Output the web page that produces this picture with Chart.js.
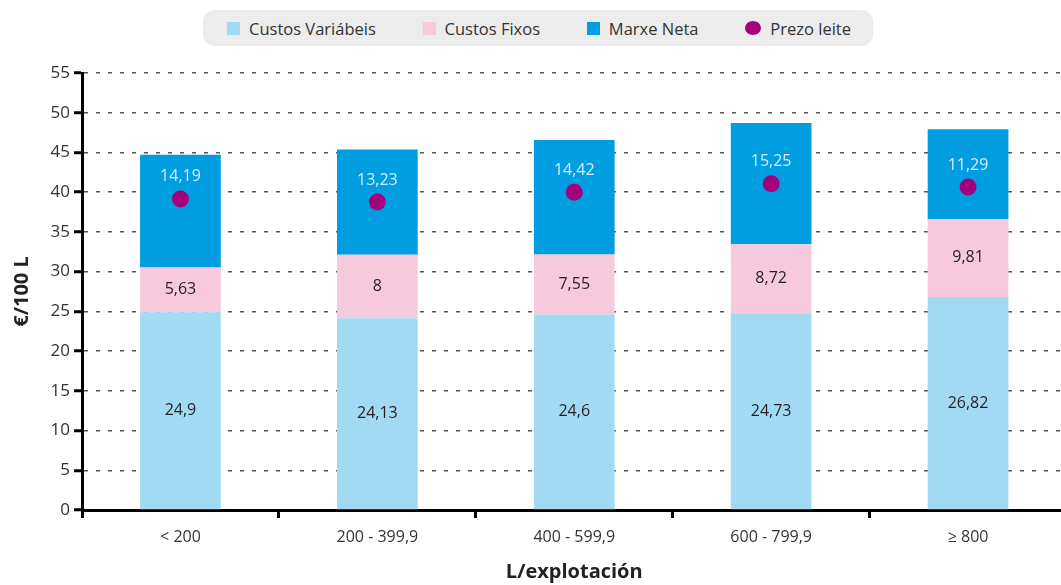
<!DOCTYPE html>
<html>
<head>
<meta charset="utf-8">
<script src="https://cdn.jsdelivr.net/npm/chart.js@4/dist/chart.umd.min.js"></script>
<style>
  html, body { margin: 0; padding: 0; background: #fff; overflow: hidden; }
  #wrap { position: relative; width: 1075px; height: 585px; }
  #legend {
    position: absolute; left: 203px; top: 10px; width: 670px; height: 36px;
    box-sizing: border-box; padding: 0 22px 0 24px;
    background: #ececec; border-radius: 12px;
    display: flex; align-items: center; justify-content: space-between;
    font: 16.5px "Open Sans", sans-serif; color: #333;
  }
  .item { display: flex; align-items: center; }
  .box { width: 13px; height: 13px; margin-right: 9px; }
  .dot { width: 16px; height: 14px; border-radius: 50%; margin-right: 9px; }
</style>
</head>
<body>
<div id="wrap">
  <canvas id="chart" width="1075" height="585"></canvas>
  <div id="legend"></div>
</div>
<script>
// ── Data ──────────────────────────────────────────────────
const categories = ['< 200', '200 - 399,9', '400 - 599,9', '600 - 799,9', '≥ 800'];
const custosVariabeis = [24.9, 24.13, 24.6, 24.73, 26.82];
const custosFixos = [5.63, 8, 7.55, 8.72, 9.81];
const marxeNeta = [14.19, 13.23, 14.42, 15.25, 11.29];
const prezoLeite = [39.15, 38.75, 40.0, 41.05, 40.65];
const yMax = 55;
const yStep = 5;

const FONT = '"Open Sans", sans-serif';
const fmt = v => String(v).replace('.', ',');

// ── Value labels inside the bars ──────────────────────────
const valueLabels = {
  id: 'valueLabels',
  afterDatasetsDraw(chart) {
    const ctx = chart.ctx;
    const priceMeta = chart.getDatasetMeta(3);
    ctx.save();
    ctx.font = '16px ' + FONT;
    ctx.textAlign = 'center';
    ctx.textBaseline = 'middle';
    chart.data.datasets.forEach((ds, i) => {
      if (ds.type === 'line') return;
      chart.getDatasetMeta(i).data.forEach((bar, j) => {
        // net margin label sits just above the milk price dot
        const y = ds.labelTop ? priceMeta.data[j].y - 22 : (bar.y + bar.base) / 2;
        ctx.fillStyle = ds.labelColor;
        ctx.fillText(fmt(ds.data[j]), bar.x, y);
      });
    });
    ctx.restore();
  }
};

// ── Chart ─────────────────────────────────────────────────
const chart = new Chart(document.getElementById('chart'), {
  type: 'bar',
  data: {
    labels: categories,
    datasets: [
      { label: 'Custos Variábeis', data: custosVariabeis, backgroundColor: '#a3daf3', stack: 'c', order: 1, labelColor: '#231f20' },
      { label: 'Custos Fixos', data: custosFixos, backgroundColor: '#f6c9dd', stack: 'c', order: 1, labelColor: '#231f20' },
      { label: 'Marxe Neta', data: marxeNeta, backgroundColor: '#009ee0', stack: 'c', order: 1, labelColor: '#d2eefb', labelTop: true },
      {
        type: 'line', label: 'Prezo leite', data: prezoLeite, stack: 'p', order: 0,
        showLine: false, pointRadius: 8.5, pointHoverRadius: 8.5,
        backgroundColor: '#a4007e', borderColor: '#a4007e', borderWidth: 0
      }
    ]
  },
  options: {
    responsive: false,
    animation: false,
    layout: { padding: { top: 73, right: 0, bottom: 0, left: 0 } },
    datasets: { bar: { barPercentage: 0.41, categoryPercentage: 1 } },
    plugins: { legend: { display: false }, tooltip: { enabled: false } },
    scales: {
      x: {
        stacked: true,
        afterFit: s => { s.height = 75; },
        grid: { offset: true, drawOnChartArea: false, drawTicks: true, tickLength: 8, tickWidth: 3, tickColor: '#000' },
        border: { color: '#000', width: 3 },
        ticks: { color: '#333', padding: 10, font: { family: FONT, size: 16 } },
        title: { display: true, text: 'L/explotación', color: '#222', font: { family: FONT, size: 20, weight: 'bold' }, padding: { top: 0, bottom: 1 } }
      },
      y: {
        stacked: true,
        min: 0, max: yMax,
        afterFit: s => { s.width = 82; },
        grid: {
          color: c => c.tick.value === 0 ? 'rgba(0,0,0,0)' : '#555',
          lineWidth: 1.5, tickLength: 8, tickWidth: 3, tickColor: '#000', tickBorderDash: []
        },
        border: { color: '#000', width: 3, dash: [4, 8] },
        ticks: { stepSize: yStep, color: '#333', padding: 4, font: { family: FONT, size: 17 } },
        title: { display: true, text: '€/100 L', color: '#222', font: { family: FONT, size: 20, weight: 'bold' }, padding: { top: 10, bottom: 0 } }
      }
    }
  },
  plugins: [valueLabels]
});

// ── HTML legend ───────────────────────────────────────────
function buildLegend(chart) {
  const el = document.getElementById('legend');
  el.innerHTML = chart.data.datasets.map(ds => `
    <div class="item">
      <span class="${ds.type === 'line' ? 'dot' : 'box'}" style="background:${ds.backgroundColor}"></span>
      <span>${ds.label}</span>
    </div>
  `).join('');
}
buildLegend(chart);
</script>
</body>
</html>
